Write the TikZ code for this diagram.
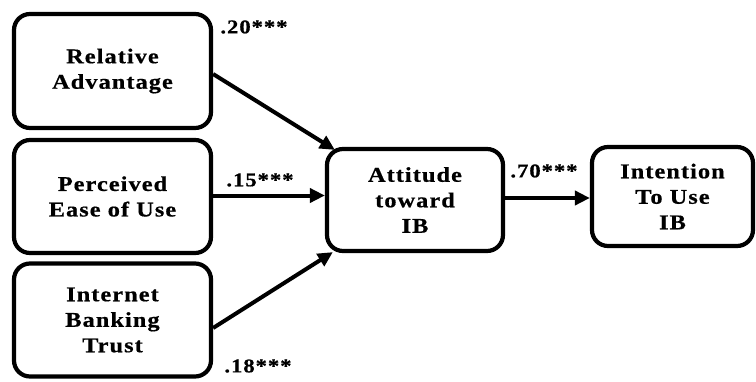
\documentclass[tikz,border=0pt]{standalone}
\usepackage{fontspec}
\setmainfont{Liberation Serif}[FakeStretch=1.16, LetterSpace=5, FakeBold=0.6]
\usetikzlibrary{arrows.meta}
\tikzset{
  box/.style={draw, line width=4.2pt, rounded corners=16pt, align=center,
    font=\fontsize{21}{25.5}\selectfont\bfseries, inner sep=0pt},
  coef/.style={font=\fontsize{19.5}{20}\selectfont\bfseries, inner sep=0pt},
  arr/.style={line width=4pt, -{Triangle[length=15pt,width=14pt]}}
}
\begin{document}
\begin{tikzpicture}[x=1pt,y=-1pt]
\useasboundingbox (0,0) rectangle (756,381);
\node[box, minimum width=197pt, minimum height=114pt] (ra) at (112.5,71) {Relative\\Advantage};
\node[box, minimum width=197pt, minimum height=113pt] (pe) at (112.5,196.5) {Perceived\\Ease of Use};
\node[box, minimum width=197pt, minimum height=113pt] (ib) at (112.5,320) {Internet\\Banking\\Trust};
\node[box, minimum width=176pt, minimum height=102pt] (att) at (415,200) {Attitude\\toward\\IB};
\node[box, minimum width=161pt, minimum height=99pt] (int) at (672.5,196.5) {Intention\\To Use\\IB};
\draw[arr] ([yshift=-3pt]ra.east) -- ([xshift=10pt,yshift=-3pt]att.north west);
\draw[arr] ([yshift=1pt]pe.east) -- ([yshift=1pt]pe.east -| att.west);
\draw[arr] ([yshift=-8pt]ib.east) -- ([xshift=8pt,yshift=1pt]att.south west);
\draw[arr] ([yshift=2pt]att.east) -- ([yshift=2pt]att.east -| int.west);
\node[coef] (c1) at (254,27) {.20***};
\node[coef] (c2) at (260,180) {.15***};
\node[coef] (c3) at (258,366) {.18***};
\node[coef] (c4) at (544,171) {.70***};
\end{tikzpicture}
\end{document}
